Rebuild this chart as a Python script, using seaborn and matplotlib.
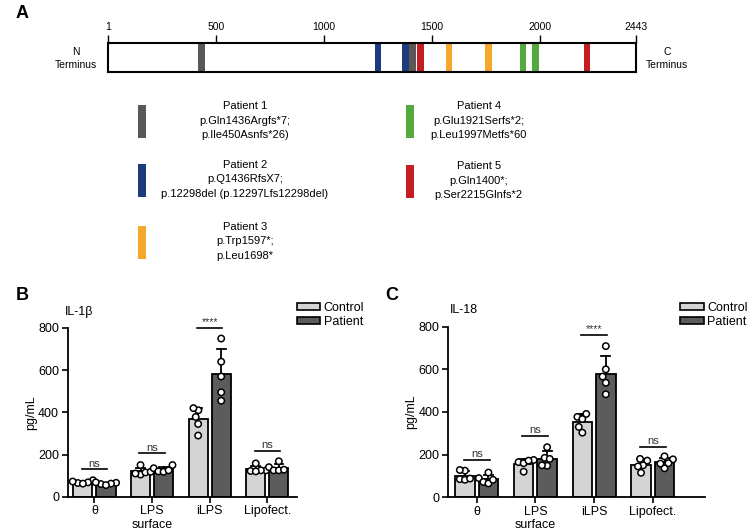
import numpy as np
import pandas as pd
import matplotlib
matplotlib.use('Agg')
import matplotlib.pyplot as plt
import seaborn as sns
from matplotlib.patches import Rectangle, Patch

# ---- panel A: protein map ----
map_ticks = [1, 500, 1000, 1500, 2000, 2443]
mut_pos = [434, 1250, 1376, 1409, 1447, 1578, 1760, 1921, 1979, 2216]
mut_patient = [0, 1, 1, 0, 4, 2, 2, 3, 3, 4]

patients = ['Patient 1', 'Patient 2', 'Patient 3', 'Patient 4', 'Patient 5']
mutations = [
    ['p.Gln1436Argfs*7;', 'p.Ile450Asnfs*26)'],
    ['p.Q1436RfsX7;', 'p.12298del (p.12297Lfs12298del)'],
    ['p.Trp1597*;', 'p.Leu1698*'],
    ['p.Glu1921Serfs*2;', 'p.Leu1997Metfs*60'],
    ['p.Gln1400*;', 'p.Ser2215Glnfs*2'],
]
patient_colors = ['#5b5757', '#1c3a7c', '#f5a82c', '#53ab3d', '#c61d22']

# ---- panels B / C: cytokine release ----
categories = ['θ', 'LPS\nsurface', 'iLPS', 'Lipofect.']
groups = ['Control', 'Patient']
bar_colors = ['#d4d4d4', '#5c5c5c']

il1b_control = [[65, 78, 72, 68, 62], [150, 105, 115, 118, 110],
                [410, 420, 378, 345, 290], [158, 125, 125, 122, 120]]
il1b_patient = [[60, 68, 66, 62, 55], [150, 135, 120, 118, 125],
                [750, 640, 570, 495, 455], [168, 140, 125, 125, 128]]
il18_control = [[125, 128, 85, 82, 88], [175, 165, 120, 160, 172],
                [377, 391, 330, 303, 367], [172, 150, 180, 115, 145]]
il18_patient = [[116, 90, 72, 65, 82], [235, 185, 148, 180, 150],
                [709, 600, 566, 537, 483], [192, 136, 178, 160, 158]]

sig_labels = ['ns', 'ns', '****', 'ns']
il1b_sig_y = [130, 205, 801, 218]
il18_sig_y = [175, 288, 760, 238]

W, H = 748, 531
FONT = ['Liberation Sans', 'DejaVu Sans']
plt.rcParams['font.family'] = FONT


def long_df(ctrl, pat):
    rows = []
    for cat, c, p in zip(categories, ctrl, pat):
        for v in c:
            rows.append((cat, 'Control', v))
        for v in p:
            rows.append((cat, 'Patient', v))
    return pd.DataFrame(rows, columns=['stim', 'group', 'value'])


def fx(px):
    return px / W


def fy(py):
    return 1 - py / H


fig = plt.figure(figsize=(W / 100, H / 100), dpi=100)

# overlay in pixel coords for labels / legend swatches
ov = fig.add_axes([0, 0, 1, 1])
ov.set_xlim(0, W)
ov.set_ylim(H, 0)
ov.axis('off')

# protein bar
axa = fig.add_axes([fx(108), fy(71.7), fx(636 - 108), (71.7 - 42.7) / H])
axa.set_xlim(1, 2443)
axa.set_ylim(0, 1)
axa.bar(mut_pos, 1, width=30, bottom=0, align='center',
        color=[patient_colors[i] for i in mut_patient], linewidth=0, zorder=2)
for s in axa.spines.values():
    s.set_linewidth(1.5)
    s.set_zorder(5)
axa.xaxis.tick_top()
axa.set_xticks(map_ticks)
axa.set_xticklabels([str(t) for t in map_ticks])
axa.set_yticks([])
axa.tick_params(axis='x', direction='out', length=5.5, width=1, pad=2.5, labelsize=7.5)

ov.text(76, 51.7, 'N', ha='center', va='center', fontsize=7.5)
ov.text(76, 65, 'Terminus', ha='center', va='center', fontsize=7.5)
ov.text(667, 51.7, 'C', ha='center', va='center', fontsize=7.5)
ov.text(667, 65, 'Terminus', ha='center', va='center', fontsize=7.5)

# patient legend
legend_pos = [(137.7, 245, 106), (137.7, 245, 165), (137.7, 245, 227),
              (405.8, 478.7, 106), (405.8, 478.7, 166)]
for (sx, tx, ty), name, muts, col in zip(legend_pos, patients, mutations, patient_colors):
    ov.add_patch(Rectangle((sx, ty - 1), 8, 33, facecolor=col, edgecolor='none'))
    for k, line in enumerate([name] + muts):
        ov.text(tx, ty + k * 14.5, line, ha='center', va='center', fontsize=8)

# panel letters and titles
ov.text(22, 13, 'A', ha='center', va='center', fontsize=13, fontweight='bold')
ov.text(22, 295, 'B', ha='center', va='center', fontsize=13, fontweight='bold')
ov.text(392, 295, 'C', ha='center', va='center', fontsize=13, fontweight='bold')
ov.text(65, 312, 'IL-1β', ha='left', va='center', fontsize=9)
ov.text(450, 310, 'IL-18', ha='left', va='center', fontsize=9)


def draw_panel(ax, df, sig_y, xlim):
    sns.barplot(data=df, x='stim', y='value', hue='group', order=categories,
                hue_order=groups, palette=bar_colors, errorbar='sd', capsize=0.3,
                width=0.8, gap=0.17, edgecolor='black', linewidth=1.3,
                err_kws={'color': 'black', 'linewidth': 1.3}, legend=False, ax=ax)
    for ln in ax.lines:
        ln.set_zorder(1.5)
    for p in ax.patches:
        p.set_zorder(2)
    sns.swarmplot(data=df, x='stim', y='value', hue='group', order=categories,
                  hue_order=groups, palette=['white', 'white'], dodge=True, size=4.6,
                  edgecolor='black', linewidth=1.1, legend=False, ax=ax, warn_thresh=1)
    for i, (y, lab) in enumerate(zip(sig_y, sig_labels)):
        ax.plot([i - 0.22, i + 0.22], [y, y], color='black', lw=1.2, clip_on=False)
        ax.annotate(lab, (i, y), xytext=(0, 0.5), textcoords='offset points',
                    ha='center', va='bottom', fontsize=8 if lab == 'ns' else 7.5,
                    color='#333333', annotation_clip=False)
    ax.set_xlim(*xlim)
    ax.set_ylim(0, 800)
    ax.set_yticks([0, 200, 400, 600, 800])
    ax.set_xlabel('')
    ax.set_ylabel('pg/mL', fontsize=9, labelpad=1)
    sns.despine(ax=ax)
    for s in ['left', 'bottom']:
        ax.spines[s].set_linewidth(1.3)
    ax.tick_params(width=1.2, length=4, labelsize=9, pad=2)


def tighten_swarms(ax, factor=0.62):
    # seaborn places swarm dots at draw time; freeze them, then pull
    # each swarm in so the dots stay inside their bar
    for c in ax.collections:
        if 'draw' in c.__dict__:
            del c.draw
        off = np.array(c.get_offsets(), dtype=float)
        if len(off) == 0:
            continue
        mx = off[:, 0].mean()
        cat = np.round(mx)
        center = cat + np.sign(mx - cat) * 0.2
        off[:, 0] = center + (off[:, 0] - center) * factor
        c.set_offsets(off)
        c.set_zorder(3)


axb = fig.add_axes([fx(67.5), fy(496.7), fx(296.7 - 67.5), (496.7 - 328) / H])
draw_panel(axb, long_df(il1b_control, il1b_patient), il1b_sig_y, (-0.467, 3.51))

axc = fig.add_axes([fx(447.7), fy(497.3), fx(705 - 447.7), (497.3 - 326.7) / H])
draw_panel(axc, long_df(il18_control, il18_patient), il18_sig_y, (-0.494, 3.89))

handles = [Patch(facecolor=c, edgecolor='black', linewidth=1.2) for c in bar_colors]
for lx in [296.7, 680]:
    fig.legend(handles, groups, loc='upper left', bbox_to_anchor=(fx(lx), fy(302)),
               frameon=False, fontsize=9, handlelength=1.9, handleheight=0.55,
               handletextpad=0.25, labelspacing=0.15, borderpad=0, borderaxespad=0)

fig.canvas.draw()
tighten_swarms(axb)
tighten_swarms(axc)

fig.savefig('out.png', dpi=100)
